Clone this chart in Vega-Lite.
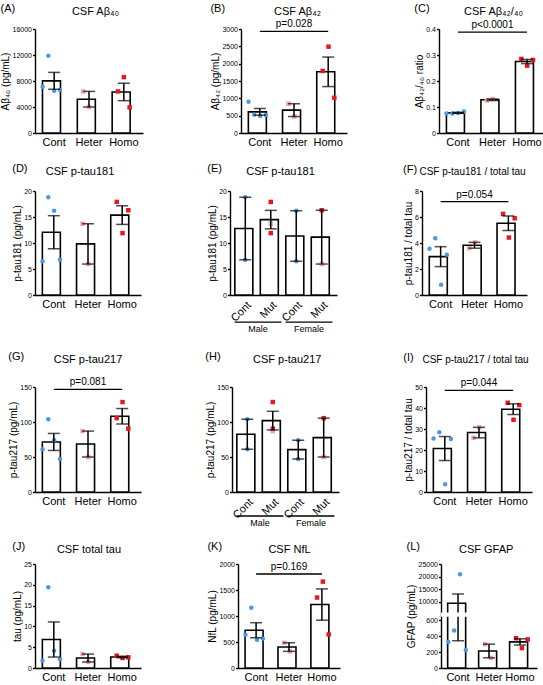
{
"$schema": "https://vega.github.io/schema/vega-lite/v6.json",
"padding": {"left": 0, "top": 2, "right": 0, "bottom": 0},
"config": {
  "font": "Liberation Sans",
  "view": {"stroke": null},
  "range": {"category": ["#4b98e6", "#f3a3a8", "#e8161e"], "symbol": ["circle", "square", "square"]},
  "axis": {"domainColor": "#000", "tickColor": "#000", "labelColor": "#000", "titleColor": "#000", "grid": false, "domainWidth": 1.4, "tickWidth": 1.4, "titleFontWeight": "normal", "labelFont": "Liberation Sans", "titleFont": "Liberation Sans"},
  "axisLeft": {"labelFontSize": 7, "titleFontSize": 10, "tickSize": 2.5, "labelPadding": 1, "titlePadding": 1.5, "labelOverlap": false},
  "axisBottom": {"labelFontSize": 11, "ticks": false, "labelPadding": 3},
  "axisTop": {"labels": false, "ticks": false, "domain": false, "titleFontSize": 11, "titleAlign": "center", "titleBaseline": "alphabetic"},
  "title": {"fontSize": 11, "fontWeight": "normal", "anchor": "start", "frame": "bounds", "offset": -8.7, "baseline": "alphabetic", "color": "#000"},
  "bar": {"fill": "white", "stroke": "black", "strokeWidth": 1.6},
  "point": {"filled": true, "size": 20, "opacity": 1},
  "rule": {"color": "black", "strokeWidth": 1.3},
  "text": {"fontSize": 10, "color": "black"}
},
"datasets": {
  "ab40": [
    {"g": "Cont", "v": 7100, "rep": "4"}, {"g": "Cont", "v": 11900, "rep": "2"}, {"g": "Cont", "v": 6500, "rep": "1"}, {"g": "Cont", "v": 6600, "rep": "3"},
    {"g": "Heter", "v": 6400, "rep": "2"}, {"g": "Heter", "v": 4000, "rep": "1"},
    {"g": "Homo", "v": 8600, "rep": "1"}, {"g": "Homo", "v": 6400, "rep": "2"}, {"g": "Homo", "v": 3950, "rep": "3"}
  ],
  "ab42": [
    {"g": "Cont", "v": 900, "rep": "4"}, {"g": "Cont", "v": 530, "rep": "2"}, {"g": "Cont", "v": 490, "rep": "1"}, {"g": "Cont", "v": 520, "rep": "3"},
    {"g": "Heter", "v": 845, "rep": "2"}, {"g": "Heter", "v": 475, "rep": "1"},
    {"g": "Homo", "v": 2490, "rep": "1"}, {"g": "Homo", "v": 1790, "rep": "2"}, {"g": "Homo", "v": 1015, "rep": "3"}
  ],
  "ratio4240": [
    {"g": "Cont", "v": 0.075, "rep": "4"}, {"g": "Cont", "v": 0.075, "rep": "2"}, {"g": "Cont", "v": 0.077, "rep": "1"}, {"g": "Cont", "v": 0.083, "rep": "3"},
    {"g": "Heter", "v": 0.125, "rep": "2"}, {"g": "Heter", "v": 0.131, "rep": "1"},
    {"g": "Homo", "v": 0.285, "rep": "2"}, {"g": "Homo", "v": 0.259, "rep": "1"}, {"g": "Homo", "v": 0.281, "rep": "3"}
  ],
  "ptau181": [
    {"g": "Cont", "sex": "Female", "ct": "Female Cont", "v": 6.5, "rep": "4"},
    {"g": "Cont", "sex": "Male", "ct": "Male Cont", "v": 18.8, "rep": "2"},
    {"g": "Cont", "sex": "Female", "ct": "Female Cont", "v": 16.2, "rep": "1"},
    {"g": "Cont", "sex": "Male", "ct": "Male Cont", "v": 6.8, "rep": "3"},
    {"g": "Heter", "sex": "Male", "ct": "Male Mut", "v": 13.7, "rep": "2"},
    {"g": "Heter", "sex": "Female", "ct": "Female Mut", "v": 5.95, "rep": "1"},
    {"g": "Homo", "sex": "Male", "ct": "Male Mut", "v": 17.9, "rep": "2"},
    {"g": "Homo", "sex": "Male", "ct": "Male Mut", "v": 11.9, "rep": "1"},
    {"g": "Homo", "sex": "Female", "ct": "Female Mut", "v": 16.3, "rep": "3"}
  ],
  "ratio181": [
    {"g": "Cont", "v": 3.55, "rep": "4"}, {"g": "Cont", "v": 4.37, "rep": "2"}, {"g": "Cont", "v": 0.79, "rep": "1"}, {"g": "Cont", "v": 3.09, "rep": "3"},
    {"g": "Heter", "v": 3.6, "rep": "2"}, {"g": "Heter", "v": 4.05, "rep": "1"},
    {"g": "Homo", "v": 6.24, "rep": "2"}, {"g": "Homo", "v": 4.42, "rep": "1"}, {"g": "Homo", "v": 5.9, "rep": "3"}
  ],
  "ptau217": [
    {"g": "Cont", "sex": "Male", "ct": "Male Cont", "v": 104, "rep": "2"},
    {"g": "Cont", "sex": "Female", "ct": "Female Cont", "v": 74, "rep": "1"},
    {"g": "Cont", "sex": "Male", "ct": "Male Cont", "v": 61, "rep": "4"},
    {"g": "Cont", "sex": "Female", "ct": "Female Cont", "v": 47, "rep": "3"},
    {"g": "Heter", "sex": "Male", "ct": "Male Mut", "v": 87, "rep": "2"},
    {"g": "Heter", "sex": "Female", "ct": "Female Mut", "v": 50, "rep": "1"},
    {"g": "Homo", "sex": "Male", "ct": "Male Mut", "v": 128.5, "rep": "1"},
    {"g": "Homo", "sex": "Female", "ct": "Female Mut", "v": 105.5, "rep": "2"},
    {"g": "Homo", "sex": "Male", "ct": "Male Mut", "v": 90.5, "rep": "3"}
  ],
  "ratio217": [
    {"g": "Cont", "v": 25.5, "rep": "4"}, {"g": "Cont", "v": 28.4, "rep": "2"}, {"g": "Cont", "v": 3.7, "rep": "1"}, {"g": "Cont", "v": 25.2, "rep": "3"},
    {"g": "Heter", "v": 30.8, "rep": "1"}, {"g": "Heter", "v": 25.8, "rep": "2"},
    {"g": "Homo", "v": 42.5, "rep": "2"}, {"g": "Homo", "v": 34.4, "rep": "1"}, {"g": "Homo", "v": 41.4, "rep": "3"}
  ],
  "tau": [
    {"g": "Cont", "v": 1.76, "rep": "4"}, {"g": "Cont", "v": 19.4, "rep": "2"}, {"g": "Cont", "v": 4.15, "rep": "1"}, {"g": "Cont", "v": 2.08, "rep": "3"},
    {"g": "Heter", "v": 3.35, "rep": "2"}, {"g": "Heter", "v": 1.45, "rep": "1"},
    {"g": "Homo", "v": 2.96, "rep": "2"}, {"g": "Homo", "v": 2.4, "rep": "1"}, {"g": "Homo", "v": 2.56, "rep": "3"}
  ],
  "nfl": [
    {"g": "Cont", "v": 640, "rep": "4"}, {"g": "Cont", "v": 1157, "rep": "2"}, {"g": "Cont", "v": 545, "rep": "1"}, {"g": "Cont", "v": 565, "rep": "3"},
    {"g": "Heter", "v": 486, "rep": "2"}, {"g": "Heter", "v": 320, "rep": "1"},
    {"g": "Homo", "v": 1661, "rep": "1"}, {"g": "Homo", "v": 1355, "rep": "2"}, {"g": "Homo", "v": 645, "rep": "3"}
  ],
  "gfap": [
    {"g": "Cont", "v": 20950, "rep": "1"}, {"g": "Cont", "v": 472, "rep": "2"}, {"g": "Cont", "v": 326, "rep": "4"}, {"g": "Cont", "v": 227, "rep": "3"},
    {"g": "Heter", "v": 300, "rep": "2"}, {"g": "Heter", "v": 128, "rep": "1"},
    {"g": "Homo", "v": 375, "rep": "2"}, {"g": "Homo", "v": 360, "rep": "3"}, {"g": "Homo", "v": 250, "rep": "1"}
  ],
  "gfapSum": [
    {"g": "Cont", "m": 9470, "lo": 343, "hi": 13120},
    {"g": "Heter", "m": 214, "lo": 128, "hi": 300},
    {"g": "Homo", "m": 328, "lo": 289, "hi": 367}
  ],
  "sexGroups": [
    {"sex": "Male", "a": "Male Cont", "b": "Male Mut"},
    {"sex": "Female", "a": "Female Cont", "b": "Female Mut"}
  ]
},
"spacing": 15,
"vconcat": [
{"spacing": 67, "hconcat": [
  {"width": 108, "height": 104, "data": {"name": "ab40"}, "title": "(A)",
   "layer": [
    {"mark": {"type": "bar", "width": {"band": 0.67}},
     "encoding": {"x": {"field": "g", "type": "nominal", "scale": {"domain": ["Cont", "Heter", "Homo"], "paddingInner": 0, "paddingOuter": 0.05}, "axis": {"title": null, "labelAngle": 0}},
      "y": {"aggregate": "mean", "field": "v", "type": "quantitative", "scale": {"domain": [0, 16000], "nice": false}, "axis": {"title": "Aβ₄₀ (pg/mL)", "values": [0, 4000, 8000, 12000, 16000], "format": "d", "labelOverlap": false}}}},
    {"mark": "point",
     "encoding": {"x": {"field": "g", "type": "nominal", "axis": {"orient": "top", "title": "CSF Aβ₄₀", "titleX": 60, "titleY": -15}},
      "xOffset": {"field": "rep", "type": "nominal", "scale": {"domain": ["4", "2", "1", "3", "5"], "paddingOuter": 2.1, "paddingInner": 0}},
      "y": {"field": "v", "type": "quantitative", "axis": null},
      "color": {"field": "g", "type": "nominal", "legend": null},
      "shape": {"field": "g", "type": "nominal", "legend": null}}},
    {"mark": {"type": "errorbar", "extent": "stderr", "color": "black", "thickness": 1.5, "ticks": {"size": 12, "thickness": 1.5, "color": "black"}},
     "encoding": {"x": {"field": "g", "type": "nominal", "axis": null}, "y": {"field": "v", "type": "quantitative", "axis": null}}}
   ],
   "resolve": {"axis": {"x": "independent", "y": "independent"}}},
  {"width": 106, "height": 104, "data": {"name": "ab42"}, "title": "(B)",
   "layer": [
    {"mark": {"type": "bar", "width": {"band": 0.67}},
     "encoding": {"x": {"field": "g", "type": "nominal", "scale": {"domain": ["Cont", "Heter", "Homo"], "paddingInner": 0, "paddingOuter": 0.05}, "axis": {"title": null, "labelAngle": 0}},
      "y": {"aggregate": "mean", "field": "v", "type": "quantitative", "scale": {"domain": [0, 3000], "nice": false}, "axis": {"title": "Aβ₄₂ (pg/mL)", "values": [0, 500, 1000, 1500, 2000, 2500, 3000], "format": "d", "labelOverlap": false}}}},
    {"mark": "point",
     "encoding": {"x": {"field": "g", "type": "nominal", "axis": {"orient": "top", "title": "CSF Aβ₄₂", "titleX": 56, "titleY": -15}},
      "xOffset": {"field": "rep", "type": "nominal", "scale": {"domain": ["4", "2", "1", "3", "5"], "paddingOuter": 2.1, "paddingInner": 0}},
      "y": {"field": "v", "type": "quantitative", "axis": null},
      "color": {"field": "g", "type": "nominal", "legend": null},
      "shape": {"field": "g", "type": "nominal", "legend": null}}},
    {"mark": {"type": "errorbar", "extent": "stderr", "color": "black", "thickness": 1.5, "ticks": {"size": 12, "thickness": 1.5, "color": "black"}},
     "encoding": {"x": {"field": "g", "type": "nominal", "axis": null}, "y": {"field": "v", "type": "quantitative", "axis": null}}},
    {"data": {"values": [{"a": "Cont", "b": "Homo", "m": "Heter", "p": "p=0.028"}]}, "mark": "rule",
     "encoding": {"x": {"field": "a", "type": "nominal", "axis": null}, "x2": {"field": "b"}, "y": {"datum": 2930, "axis": null}}},
    {"data": {"values": [{"a": "Cont", "b": "Homo", "m": "Heter", "p": "p=0.028"}]}, "mark": {"type": "text", "dy": -4, "baseline": "alphabetic"},
     "encoding": {"x": {"field": "m", "type": "nominal", "axis": null}, "y": {"datum": 2930, "axis": null}, "text": {"field": "p"}}}
   ],
   "resolve": {"axis": {"x": "independent", "y": "independent"}}},
  {"width": 107, "height": 104, "data": {"name": "ratio4240"}, "title": "(C)",
   "layer": [
    {"mark": {"type": "bar", "width": {"band": 0.67}},
     "encoding": {"x": {"field": "g", "type": "nominal", "scale": {"domain": ["Cont", "Heter", "Homo"], "paddingInner": 0, "paddingOuter": 0.05}, "axis": {"title": null, "labelAngle": 0}},
      "y": {"aggregate": "mean", "field": "v", "type": "quantitative", "scale": {"domain": [0, 0.4], "nice": false}, "axis": {"title": "Aβ₄₂/₄₀ ratio", "values": [0, 0.1, 0.2, 0.3, 0.4], "labelExpr": "datum.value == 0 ? '0' : format(datum.value, '.1f')", "labelOverlap": false}}}},
    {"mark": "point",
     "encoding": {"x": {"field": "g", "type": "nominal", "axis": {"orient": "top", "title": "CSF Aβ₄₂/₄₀", "titleX": 54, "titleY": -15}},
      "xOffset": {"field": "rep", "type": "nominal", "scale": {"domain": ["4", "2", "1", "3", "5"], "paddingOuter": 2.1, "paddingInner": 0}},
      "y": {"field": "v", "type": "quantitative", "axis": null},
      "color": {"field": "g", "type": "nominal", "legend": null},
      "shape": {"field": "g", "type": "nominal", "legend": null}}},
    {"mark": {"type": "errorbar", "extent": "stderr", "color": "black", "thickness": 1.5, "ticks": {"size": 12, "thickness": 1.5, "color": "black"}},
     "encoding": {"x": {"field": "g", "type": "nominal", "axis": null}, "y": {"field": "v", "type": "quantitative", "axis": null}}},
    {"data": {"values": [{"a": "Cont", "b": "Homo", "m": "Heter", "p": "p<0.0001"}]}, "mark": "rule",
     "encoding": {"x": {"field": "a", "type": "nominal", "axis": null}, "x2": {"field": "b"}, "y": {"datum": 0.388, "axis": null}}},
    {"data": {"values": [{"a": "Cont", "b": "Homo", "m": "Heter", "p": "p<0.0001"}]}, "mark": {"type": "text", "dy": -4, "baseline": "alphabetic"},
     "encoding": {"x": {"field": "m", "type": "nominal", "axis": null}, "y": {"datum": 0.388, "axis": null}, "text": {"field": "p"}}}
   ],
   "resolve": {"axis": {"x": "independent", "y": "independent"}}}
]},
{"spacing": 66, "hconcat": [
  {"width": 106, "height": 104, "data": {"name": "ptau181"}, "title": "(D)",
   "layer": [
    {"mark": {"type": "bar", "width": {"band": 0.67}},
     "encoding": {"x": {"field": "g", "type": "nominal", "scale": {"domain": ["Cont", "Heter", "Homo"], "paddingInner": 0, "paddingOuter": 0.05}, "axis": {"title": null, "labelAngle": 0}},
      "y": {"aggregate": "mean", "field": "v", "type": "quantitative", "scale": {"domain": [0, 20], "nice": false}, "axis": {"title": "p-tau181 (pg/mL)", "values": [0, 5, 10, 15, 20], "labelOverlap": false}}}},
    {"mark": "point",
     "encoding": {"x": {"field": "g", "type": "nominal", "axis": {"orient": "top", "title": "CSF p-tau181", "titleX": 44.5, "titleY": -17}},
      "xOffset": {"field": "rep", "type": "nominal", "scale": {"domain": ["4", "2", "1", "3", "5"], "paddingOuter": 2.1, "paddingInner": 0}},
      "y": {"field": "v", "type": "quantitative", "axis": null},
      "color": {"field": "g", "type": "nominal", "legend": null},
      "shape": {"field": "g", "type": "nominal", "legend": null}}},
    {"mark": {"type": "errorbar", "extent": "stderr", "color": "black", "thickness": 1.5, "ticks": {"size": 12, "thickness": 1.5, "color": "black"}},
     "encoding": {"x": {"field": "g", "type": "nominal", "axis": null}, "y": {"field": "v", "type": "quantitative", "axis": null}}}
   ],
   "resolve": {"axis": {"x": "independent", "y": "independent"}}},
  {"width": 107, "height": 104, "data": {"name": "ptau181"}, "title": "(E)",
   "layer": [
    {"mark": {"type": "bar", "width": {"band": 0.82}},
     "encoding": {"x": {"field": "ct", "type": "nominal", "scale": {"domain": ["Male Cont", "Male Mut", "Female Cont", "Female Mut"], "paddingInner": 0, "paddingOuter": 0.1}, "axis": {"title": null, "labelAngle": -45, "labelPadding": 4, "labelExpr": "split(datum.label, ' ')[1]"}},
      "y": {"aggregate": "mean", "field": "v", "type": "quantitative", "scale": {"domain": [0, 20], "nice": false}, "axis": {"title": "p-tau181 (pg/mL)", "values": [0, 5, 10, 15, 20], "labelOverlap": false}}}},
    {"mark": "point",
     "encoding": {"x": {"field": "ct", "type": "nominal", "axis": {"orient": "top", "title": "CSF p-tau181", "titleX": 50, "titleY": -17}},
      "y": {"field": "v", "type": "quantitative", "axis": null},
      "color": {"field": "g", "type": "nominal", "legend": null},
      "shape": {"field": "g", "type": "nominal", "legend": null}}},
    {"mark": {"type": "errorbar", "extent": "stderr", "color": "black", "thickness": 1.5, "ticks": {"size": 12, "thickness": 1.5, "color": "black"}},
     "encoding": {"x": {"field": "ct", "type": "nominal", "axis": null}, "y": {"field": "v", "type": "quantitative", "axis": null}}},
    {"data": {"name": "sexGroups"}, "mark": "rule",
     "encoding": {"x": {"field": "a", "type": "nominal", "bandPosition": 0.08, "axis": null}, "x2": {"field": "b", "bandPosition": 0.92}, "y": {"datum": -5.2, "axis": null}}},
    {"data": {"name": "sexGroups"}, "mark": {"type": "text", "baseline": "top", "fontSize": 9},
     "encoding": {"x": {"field": "a", "type": "nominal", "bandPosition": 1, "axis": null}, "y": {"datum": -5.77, "axis": null}, "text": {"field": "sex"}}}
   ],
   "resolve": {"axis": {"x": "independent", "y": "independent"}}},
  {"width": 105, "height": 104, "data": {"name": "ratio181"}, "title": "(F)",
   "layer": [
    {"mark": {"type": "bar", "width": {"band": 0.67}},
     "encoding": {"x": {"field": "g", "type": "nominal", "scale": {"domain": ["Cont", "Heter", "Homo"], "paddingInner": 0, "paddingOuter": 0.05}, "axis": {"title": null, "labelAngle": 0}},
      "y": {"aggregate": "mean", "field": "v", "type": "quantitative", "scale": {"domain": [0, 8], "nice": false}, "axis": {"title": "p-tau181 / total tau", "values": [0, 2, 4, 6, 8], "labelOverlap": false}}}},
    {"mark": "point",
     "encoding": {"x": {"field": "g", "type": "nominal", "axis": {"orient": "top", "title": "CSF p-tau181 / total tau", "titleFontSize": 10, "titleX": 50, "titleY": -17}},
      "xOffset": {"field": "rep", "type": "nominal", "scale": {"domain": ["4", "2", "1", "3", "5"], "paddingOuter": 2.1, "paddingInner": 0}},
      "y": {"field": "v", "type": "quantitative", "axis": null},
      "color": {"field": "g", "type": "nominal", "legend": null},
      "shape": {"field": "g", "type": "nominal", "legend": null}}},
    {"mark": {"type": "errorbar", "extent": "stderr", "color": "black", "thickness": 1.5, "ticks": {"size": 12, "thickness": 1.5, "color": "black"}},
     "encoding": {"x": {"field": "g", "type": "nominal", "axis": null}, "y": {"field": "v", "type": "quantitative", "axis": null}}},
    {"data": {"values": [{"a": "Cont", "b": "Homo", "m": "Heter", "p": "p=0.054"}]}, "mark": "rule",
     "encoding": {"x": {"field": "a", "type": "nominal", "axis": null}, "x2": {"field": "b"}, "y": {"datum": 7.18, "axis": null}}},
    {"data": {"values": [{"a": "Cont", "b": "Homo", "m": "Heter", "p": "p=0.054"}]}, "mark": {"type": "text", "dy": -4, "baseline": "alphabetic"},
     "encoding": {"x": {"field": "m", "type": "nominal", "axis": null}, "y": {"datum": 7.18, "axis": null}, "text": {"field": "p"}}}
   ],
   "resolve": {"axis": {"x": "independent", "y": "independent"}}}
]},
{"spacing": 12, "vconcat": [
{"spacing": 64, "hconcat": [
  {"width": 106, "height": 105, "data": {"name": "ptau217"}, "title": "(G)",
   "layer": [
    {"mark": {"type": "bar", "width": {"band": 0.67}},
     "encoding": {"x": {"field": "g", "type": "nominal", "scale": {"domain": ["Cont", "Heter", "Homo"], "paddingInner": 0, "paddingOuter": 0.05}, "axis": {"title": null, "labelAngle": 0}},
      "y": {"aggregate": "mean", "field": "v", "type": "quantitative", "scale": {"domain": [0, 150], "nice": false}, "axis": {"title": "p-tau217 (pg/mL)", "values": [0, 50, 100, 150], "labelOverlap": false}}}},
    {"mark": "point",
     "encoding": {"x": {"field": "g", "type": "nominal", "axis": {"orient": "top", "title": "CSF p-tau217", "titleX": 52.5, "titleY": -25}},
      "xOffset": {"field": "rep", "type": "nominal", "scale": {"domain": ["4", "2", "1", "3", "5"], "paddingOuter": 2.1, "paddingInner": 0}},
      "y": {"field": "v", "type": "quantitative", "axis": null},
      "color": {"field": "g", "type": "nominal", "legend": null},
      "shape": {"field": "g", "type": "nominal", "legend": null}}},
    {"mark": {"type": "errorbar", "extent": "stderr", "color": "black", "thickness": 1.5, "ticks": {"size": 12, "thickness": 1.5, "color": "black"}},
     "encoding": {"x": {"field": "g", "type": "nominal", "axis": null}, "y": {"field": "v", "type": "quantitative", "axis": null}}},
    {"data": {"values": [{"a": "Cont", "b": "Homo", "m": "Heter", "p": "p=0.081"}]}, "mark": "rule",
     "encoding": {"x": {"field": "a", "type": "nominal", "axis": null}, "x2": {"field": "b"}, "y": {"datum": 146.7, "axis": null}}},
    {"data": {"values": [{"a": "Cont", "b": "Homo", "m": "Heter", "p": "p=0.081"}]}, "mark": {"type": "text", "dy": -4, "baseline": "alphabetic"},
     "encoding": {"x": {"field": "m", "type": "nominal", "axis": null}, "y": {"datum": 146.7, "axis": null}, "text": {"field": "p"}}}
   ],
   "resolve": {"axis": {"x": "independent", "y": "independent"}}},
  {"width": 107, "height": 105, "data": {"name": "ptau217"}, "title": "(H)",
   "layer": [
    {"mark": {"type": "bar", "width": {"band": 0.82}},
     "encoding": {"x": {"field": "ct", "type": "nominal", "scale": {"domain": ["Male Cont", "Male Mut", "Female Cont", "Female Mut"], "paddingInner": 0, "paddingOuter": 0.1}, "axis": {"title": null, "labelAngle": -45, "labelPadding": 4, "labelExpr": "split(datum.label, ' ')[1]"}},
      "y": {"aggregate": "mean", "field": "v", "type": "quantitative", "scale": {"domain": [0, 150], "nice": false}, "axis": {"title": "p-tau217 (pg/mL)", "values": [0, 50, 100, 150], "labelOverlap": false}}}},
    {"mark": "point",
     "encoding": {"x": {"field": "ct", "type": "nominal", "axis": {"orient": "top", "title": "CSF p-tau217", "titleX": 54.7, "titleY": -25}},
      "y": {"field": "v", "type": "quantitative", "axis": null},
      "color": {"field": "g", "type": "nominal", "legend": null},
      "shape": {"field": "g", "type": "nominal", "legend": null}}},
    {"mark": {"type": "errorbar", "extent": "stderr", "color": "black", "thickness": 1.5, "ticks": {"size": 12, "thickness": 1.5, "color": "black"}},
     "encoding": {"x": {"field": "ct", "type": "nominal", "axis": null}, "y": {"field": "v", "type": "quantitative", "axis": null}}},
    {"data": {"name": "sexGroups"}, "mark": "rule",
     "encoding": {"x": {"field": "a", "type": "nominal", "bandPosition": 0.08, "axis": null}, "x2": {"field": "b", "bandPosition": 0.92}, "y": {"datum": -34.3, "axis": null}}},
    {"data": {"name": "sexGroups"}, "mark": {"type": "text", "baseline": "top", "fontSize": 9},
     "encoding": {"x": {"field": "a", "type": "nominal", "bandPosition": 1, "axis": null}, "y": {"datum": -37.9, "axis": null}, "text": {"field": "sex"}}}
   ],
   "resolve": {"axis": {"x": "independent", "y": "independent"}}},
  {"width": 106, "height": 105, "data": {"name": "ratio217"}, "title": "(I)",
   "layer": [
    {"mark": {"type": "bar", "width": {"band": 0.67}},
     "encoding": {"x": {"field": "g", "type": "nominal", "scale": {"domain": ["Cont", "Heter", "Homo"], "paddingInner": 0, "paddingOuter": 0.05}, "axis": {"title": null, "labelAngle": 0}},
      "y": {"aggregate": "mean", "field": "v", "type": "quantitative", "scale": {"domain": [0, 50], "nice": false}, "axis": {"title": "p-tau217 / total tau", "values": [0, 10, 20, 30, 40, 50], "labelOverlap": false}}}},
    {"mark": "point",
     "encoding": {"x": {"field": "g", "type": "nominal", "axis": {"orient": "top", "title": "CSF p-tau217 / total tau", "titleFontSize": 10, "titleX": 49, "titleY": -25}},
      "xOffset": {"field": "rep", "type": "nominal", "scale": {"domain": ["4", "2", "1", "3", "5"], "paddingOuter": 2.1, "paddingInner": 0}},
      "y": {"field": "v", "type": "quantitative", "axis": null},
      "color": {"field": "g", "type": "nominal", "legend": null},
      "shape": {"field": "g", "type": "nominal", "legend": null}}},
    {"mark": {"type": "errorbar", "extent": "stderr", "color": "black", "thickness": 1.5, "ticks": {"size": 12, "thickness": 1.5, "color": "black"}},
     "encoding": {"x": {"field": "g", "type": "nominal", "axis": null}, "y": {"field": "v", "type": "quantitative", "axis": null}}},
    {"data": {"values": [{"a": "Cont", "b": "Homo", "m": "Heter", "p": "p=0.044"}]}, "mark": "rule",
     "encoding": {"x": {"field": "a", "type": "nominal", "axis": null}, "x2": {"field": "b"}, "y": {"datum": 48.4, "axis": null}}},
    {"data": {"values": [{"a": "Cont", "b": "Homo", "m": "Heter", "p": "p=0.044"}]}, "mark": {"type": "text", "dy": -4, "baseline": "alphabetic"},
     "encoding": {"x": {"field": "m", "type": "nominal", "axis": null}, "y": {"datum": 48.4, "axis": null}, "text": {"field": "p"}}}
   ],
   "resolve": {"axis": {"x": "independent", "y": "independent"}}}
]},
{"spacing": 66, "hconcat": [
  {"width": 106, "height": 104, "data": {"name": "tau"}, "title": "(J)",
   "layer": [
    {"mark": {"type": "bar", "width": {"band": 0.67}},
     "encoding": {"x": {"field": "g", "type": "nominal", "scale": {"domain": ["Cont", "Heter", "Homo"], "paddingInner": 0, "paddingOuter": 0.05}, "axis": {"title": null, "labelAngle": 0}},
      "y": {"aggregate": "mean", "field": "v", "type": "quantitative", "scale": {"domain": [0, 25], "nice": false}, "axis": {"title": "tau (pg/mL)", "values": [0, 5, 10, 15, 20, 25], "labelOverlap": false}}}},
    {"mark": "point",
     "encoding": {"x": {"field": "g", "type": "nominal", "axis": {"orient": "top", "title": "CSF total tau", "titleX": 53.5, "titleY": -12}},
      "xOffset": {"field": "rep", "type": "nominal", "scale": {"domain": ["4", "2", "1", "3", "5"], "paddingOuter": 2.1, "paddingInner": 0}},
      "y": {"field": "v", "type": "quantitative", "axis": null},
      "color": {"field": "g", "type": "nominal", "legend": null},
      "shape": {"field": "g", "type": "nominal", "legend": null}}},
    {"mark": {"type": "errorbar", "extent": "stderr", "color": "black", "thickness": 1.5, "ticks": {"size": 12, "thickness": 1.5, "color": "black"}},
     "encoding": {"x": {"field": "g", "type": "nominal", "axis": null}, "y": {"field": "v", "type": "quantitative", "axis": null}}}
   ],
   "resolve": {"axis": {"x": "independent", "y": "independent"}}},
  {"width": 102, "height": 104, "data": {"name": "nfl"}, "title": "(K)",
   "layer": [
    {"mark": {"type": "bar", "width": {"band": 0.67}},
     "encoding": {"x": {"field": "g", "type": "nominal", "scale": {"domain": ["Cont", "Heter", "Homo"], "paddingInner": 0, "paddingOuter": 0.05}, "axis": {"title": null, "labelAngle": 0}},
      "y": {"aggregate": "mean", "field": "v", "type": "quantitative", "scale": {"domain": [0, 2000], "nice": false}, "axis": {"title": "NfL (pg/mL)", "values": [0, 500, 1000, 1500, 2000], "format": "d", "labelOverlap": false}}}},
    {"mark": "point",
     "encoding": {"x": {"field": "g", "type": "nominal", "axis": {"orient": "top", "title": "CSF NfL", "titleX": 51, "titleY": -12}},
      "xOffset": {"field": "rep", "type": "nominal", "scale": {"domain": ["4", "2", "1", "3", "5"], "paddingOuter": 2.1, "paddingInner": 0}},
      "y": {"field": "v", "type": "quantitative", "axis": null},
      "color": {"field": "g", "type": "nominal", "legend": null},
      "shape": {"field": "g", "type": "nominal", "legend": null}}},
    {"mark": {"type": "errorbar", "extent": "stderr", "color": "black", "thickness": 1.5, "ticks": {"size": 12, "thickness": 1.5, "color": "black"}},
     "encoding": {"x": {"field": "g", "type": "nominal", "axis": null}, "y": {"field": "v", "type": "quantitative", "axis": null}}},
    {"data": {"values": [{"a": "Cont", "b": "Homo", "m": "Heter", "p": "p=0.169"}]}, "mark": "rule",
     "encoding": {"x": {"field": "a", "type": "nominal", "axis": null}, "x2": {"field": "b"}, "y": {"datum": 1808, "axis": null}}},
    {"data": {"values": [{"a": "Cont", "b": "Homo", "m": "Heter", "p": "p=0.169"}]}, "mark": {"type": "text", "dy": -4, "baseline": "alphabetic"},
     "encoding": {"x": {"field": "m", "type": "nominal", "axis": null}, "y": {"datum": 1808, "axis": null}, "text": {"field": "p"}}}
   ],
   "resolve": {"axis": {"x": "independent", "y": "independent"}}},
  {"width": 96, "height": 104, "data": {"name": "gfap"}, "title": "(L)",
   "layer": [
    {"data": {"name": "gfapSum"}, "mark": {"type": "bar", "width": {"band": 0.67}},
     "encoding": {"x": {"field": "g", "type": "nominal", "scale": {"domain": ["Cont", "Heter", "Homo"], "paddingInner": 0, "paddingOuter": 0.05}, "axis": {"title": null, "labelAngle": 0}},
      "y": {"field": "m", "type": "quantitative", "scale": {"domain": [0, 644, 5830, 25000], "range": [104, 52.8, 48.4, 0], "nice": false, "zero": false}, "axis": {"title": "GFAP (pg/mL)", "values": [0, 200, 400, 600, 10000, 15000, 20000, 25000], "format": "d", "labelOverlap": false}}}},
    {"mark": "point",
     "encoding": {"x": {"field": "g", "type": "nominal", "axis": {"orient": "top", "title": "CSF GFAP", "titleX": 44.7, "titleY": -12}},
      "xOffset": {"field": "rep", "type": "nominal", "scale": {"domain": ["4", "2", "1", "3", "5"], "paddingOuter": 2.1, "paddingInner": 0}},
      "y": {"field": "v", "type": "quantitative", "axis": null},
      "color": {"field": "g", "type": "nominal", "legend": null},
      "shape": {"field": "g", "type": "nominal", "legend": null}}},
    {"data": {"name": "gfapSum"}, "mark": {"type": "errorbar", "color": "black", "thickness": 1.5, "ticks": {"size": 12, "thickness": 1.5, "color": "black"}},
     "encoding": {"x": {"field": "g", "type": "nominal", "axis": null}, "y": {"field": "lo", "type": "quantitative", "axis": null}, "y2": {"field": "hi"}}},
    {"data": {"values": [{"gap": "break"}]}, "mark": {"type": "rect", "fill": "white", "stroke": null},
     "encoding": {"y": {"datum": 644, "axis": null}, "y2": {"datum": 5830}}}
   ],
   "resolve": {"axis": {"x": "independent", "y": "independent"}}}
]}
]}
]
}
